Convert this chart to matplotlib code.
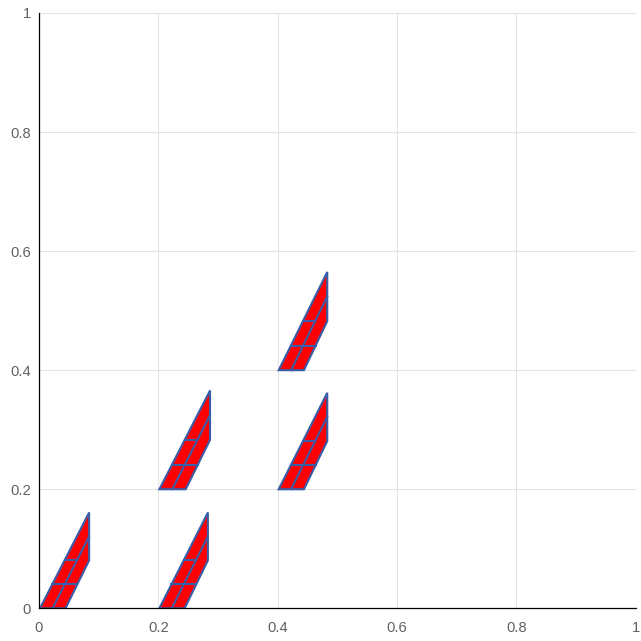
import matplotlib
matplotlib.use("Agg")
import matplotlib.pyplot as plt
import numpy as np

plt.rcParams['font.family'] = ['Liberation Sans', 'DejaVu Sans']

# Anchor of each glyph, and the measured geometry of each one
anchor_x = [0.0, 0.2, 0.2, 0.4, 0.4]
anchor_y = [0.0, 0.0, 0.2, 0.2, 0.4]
reach_x = [0.084, 0.083, 0.0866, 0.083, 0.083]
top_y = [0.161, 0.161, 0.166, 0.162, 0.165]

ticks = [0, 0.2, 0.4, 0.6, 0.8, 1]
tick_labels = ['0', '0.2', '0.4', '0.6', '0.8', '1']

# Mesh node offsets in a glyph, as fractions of its own reach and height
left_u = [0.02, 0.265, 0.51, 0.755, 1.0]
left_v = [0.0, 0.25, 0.5, 0.75, 1.0]
mid_u = [0.27, 0.513, 0.757, 1.0]
mid_v = [0.0, 0.25, 0.5, 0.75]
right_u = [0.53, 0.765, 1.0]
right_v = [0.0, 0.25, 0.5]

RED = '#ff0000'
EDGE = '#3a5da8'
GRID = '#e3e3e3'
TEXT = '#616161'
LW = 1.5

W = 641
fig = plt.figure(figsize=(W / 100, W / 100), dpi=100, facecolor='white')
ax = fig.add_axes([39.0 / W, (W - 608.3) / W, 596.8 / W, 595.3 / W])
ax.set_xlim(0, 1)
ax.set_ylim(0, 1)
ax.set_xticks(ticks)
ax.set_yticks(ticks)
ax.set_xticklabels(tick_labels)
ax.set_yticklabels(tick_labels)
ax.grid(True, color=GRID, linewidth=0.75, zorder=0)
ax.set_axisbelow(True)
ax.tick_params(axis='x', length=0, labelsize=10.6, labelcolor=TEXT, pad=9)
ax.tick_params(axis='y', length=0, labelsize=10.6, labelcolor=TEXT, pad=6)
for side in ('top', 'right'):
    ax.spines[side].set_visible(False)
for side in ('left', 'bottom'):
    ax.spines[side].set_color('black')
    ax.spines[side].set_linewidth(0.9)
    ax.spines[side].set_zorder(5)
for lab in ax.get_xticklabels() + ax.get_yticklabels():
    lab.set_clip_on(False)

for ax0, ay0, rx, ty in zip(anchor_x, anchor_y, reach_x, top_y):
    lx = ax0 + np.array(left_u) * rx
    ly = ay0 + np.array(left_v) * ty
    mx = ax0 + np.array(mid_u) * rx
    my = ay0 + np.array(mid_v) * ty
    rx_ = ax0 + np.array(right_u) * rx
    ry_ = ay0 + np.array(right_v) * ty
    ox = np.concatenate([lx, rx_[::-1]])
    oy = np.concatenate([ly, ry_[::-1]])
    ax.fill(ox, oy, facecolor=RED, edgecolor=EDGE, linewidth=LW, zorder=3, joinstyle='miter')
    ax.plot(mx, my, color=EDGE, linewidth=LW, zorder=4)
    # cross lines: first row spans the glyph, second stops at the middle line
    ax.plot([lx[1], rx_[1]], [ly[1], ry_[1]], color=EDGE, linewidth=LW, zorder=4)
    ax.plot([lx[2], mx[2]], [ly[2], my[2]], color=EDGE, linewidth=LW, zorder=4)

fig.savefig('out.png', dpi=100, facecolor='white')
